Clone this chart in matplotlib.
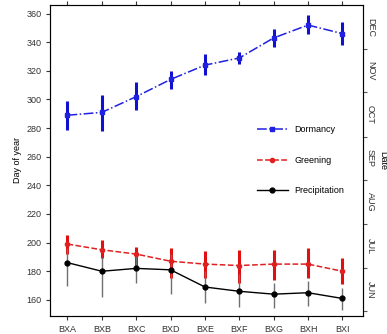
import matplotlib
matplotlib.use("Agg")
import matplotlib.pyplot as plt
import numpy as np

plt.rcParams['font.family'] = ['Liberation Sans', 'DejaVu Sans']

sites = ["BXA", "BXB", "BXC", "BXD", "BXE", "BXF", "BXG", "BXH", "BXI"]

dormancy = [289, 291, 302, 314, 324, 329, 343, 352, 346]
dormancy_lo = [279, 278, 293, 307, 317, 325, 337, 346, 338]
dormancy_hi = [299, 303, 312, 320, 332, 333, 349, 359, 354]

greening = [199, 195, 192, 187, 185, 184, 185, 185, 180]
greening_lo = [192, 189, 183, 175, 175, 172, 174, 175, 171]
greening_hi = [205, 202, 197, 196, 194, 195, 195, 196, 189]

precip = [186, 180, 182, 181, 169, 166, 164, 165, 161]
precip_lo = [170, 162, 172, 164, 158, 155, 154, 156, 153]
precip_hi = [196, 190, 192, 192, 180, 178, 172, 173, 168]

months = ["JUN", "JUL", "AUG", "SEP", "OCT", "NOV", "DEC"]
month_starts = [152, 182, 213, 244, 274, 305, 335, 366]

day_ticks = [160, 180, 200, 220, 240, 260, 280, 300, 320, 340, 360]


def err(mid, lo, hi):
    mid = np.array(mid)
    return [mid - np.array(lo), np.array(hi) - mid]


fig = plt.figure(figsize=(3.87, 3.34), dpi=100)
ax = fig.add_axes([0.13, 0.055, 0.808, 0.93])
x = np.arange(len(sites))

e1 = ax.errorbar(x, dormancy, yerr=err(dormancy, dormancy_lo, dormancy_hi),
                 color='#2020e0', ls='-.', lw=1.1, marker='s', ms=2.5,
                 elinewidth=2.2, ecolor='#1010d0', capsize=0)
e2 = ax.errorbar(x, greening, yerr=err(greening, greening_lo, greening_hi),
                 color='#e02020', ls='--', lw=1.1, marker='o', ms=3,
                 elinewidth=2.2, ecolor='#e01010', capsize=0)
e3 = ax.errorbar(x, precip, yerr=err(precip, precip_lo, precip_hi),
                 color='black', ls='-', lw=1.0, marker='o', ms=3.5,
                 elinewidth=1.0, ecolor='#707070', capsize=0)

ax.set_xlim(-0.5, 8.6)
ax.set_ylim(149, 366)
ax.set_xticks(x)
ax.set_xticklabels(sites, fontsize=6.5, color='#333333')
ax.set_yticks(day_ticks)
ax.tick_params(axis='y', labelsize=6.5, length=3, colors='#333333')
ax.tick_params(axis='x', top=True, length=3, colors='#333333')
ax.set_ylabel("Day of year", fontsize=6.5, labelpad=3)
for s in ax.spines.values():
    s.set_color('#555555')

ax2 = ax.twinx()
ax2.set_ylim(ax.get_ylim())
ax2.set_yticks(month_starts[:-1])
ax2.set_yticklabels([])
mids = [(a + b) / 2 for a, b in zip(month_starts[:-1], month_starts[1:])]
ax2.set_yticks(mids, minor=True)
ax2.set_yticklabels(months, minor=True, rotation=270, va='center', fontsize=6.5, color='#333333')
ax2.tick_params(axis='y', which='minor', length=0, pad=2)
ax2.tick_params(axis='y', which='major', length=3, colors='#555555')
ax2.set_ylabel("Date", rotation=270, fontsize=6.5, va='center')
ax2.yaxis.set_label_coords(1.062, 0.50)

ax.legend([e1[0], e2[0], e3[0]], ["Dormancy", "Greening", "Precipitation"],
          loc='center', bbox_to_anchor=(0.8, 0.5), frameon=False,
          fontsize=6.5, labelspacing=2.4, handlelength=3.4, handletextpad=0.7)

fig.savefig("out.png", dpi=100)
